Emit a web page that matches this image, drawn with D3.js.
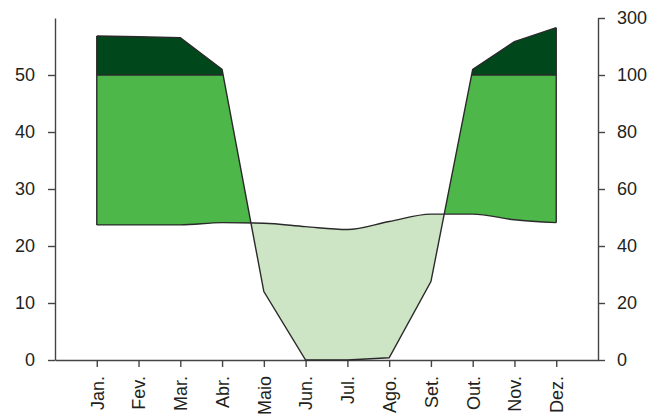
<!DOCTYPE html>
<html>
<head>
<meta charset="utf-8">
<script src="https://cdn.jsdelivr.net/npm/d3@7"></script>
<style>
  html, body { margin: 0; padding: 0; background: #fff; }
  svg { display: block; }
  text { font-family: "Liberation Sans", Arial, sans-serif; }
</style>
</head>
<body>
<svg id="chart" width="649" height="418"></svg>
<script>
const months = ["Jan.","Fev.","Mar.","Abr.","Maio","Jun.","Jul.","Ago.","Set.","Out.","Nov.","Dez."];
const temperature = [23.7, 23.7, 23.7, 24.1, 24.0, 23.4, 22.9, 24.3, 25.6, 25.6, 24.6, 24.1];
const precipitation = [237, 234, 231, 120, 24, 0, 0, 0.8, 27.5, 120, 217, 266];
const tempTicks = [0, 10, 20, 30, 40, 50];
const precipTicks = [0, 20, 40, 60, 80, 100, 300];

(function () {
const svg = d3.select("#chart");
const W = 649, H = 418;
const mLeft = 55, mRight = 598, mTop = 18, mBottom = 360;

const x = d3.scaleLinear().domain([-1, 12]).range([mLeft, mRight]);
const yT = d3.scaleLinear().domain([0, 60]).range([mBottom, mTop]);
const yP = d3.scaleLinear().domain([0, 100, 300]).range([mBottom, yT(50), mTop]);

const idx = d3.range(months.length);
const lineT = d3.line().x(i => x(i)).y(i => yT(temperature[i])).curve(d3.curveMonotoneX);
const lineP = d3.line().x(i => x(i)).y(i => yP(precipitation[i]));
const tD = lineT(idx), pD = lineP(idx);
const x0 = x(0), x1 = x(11);

const defs = svg.append("defs");
defs.append("clipPath").attr("id", "abovePrecip").append("path")
  .attr("d", pD + `L${x1},0L${x0},0Z`);
defs.append("clipPath").attr("id", "belowPrecip").append("path")
  .attr("d", pD + `L${x1},${H}L${x0},${H}Z`);
defs.append("clipPath").attr("id", "aboveTemp").append("path")
  .attr("d", tD + `L${x1},0L${x0},0Z`);
defs.append("clipPath").attr("id", "above100").append("rect")
  .attr("x", 0).attr("y", 0).attr("width", W).attr("height", yP(100));

const belowPrecipPath = pD + `L${x1},${yP(0)}L${x0},${yP(0)}Z`;
const belowTempPath = tD + `L${x1},${H}L${x0},${H}Z`;

// arid
svg.append("path").attr("d", belowTempPath).attr("fill", "#cde5c4")
  .attr("clip-path", "url(#abovePrecip)");
// humid
svg.append("path").attr("d", belowPrecipPath).attr("fill", "#4db849")
  .attr("clip-path", "url(#aboveTemp)");
// very humid (>100 mm)
svg.append("path").attr("d", belowPrecipPath).attr("fill", "#00471c")
  .attr("clip-path", "url(#above100)");

const ink = "#2a2a2a";
svg.append("line").attr("x1", x0).attr("x2", x1).attr("y1", yP(100)).attr("y2", yP(100))
  .attr("stroke", ink).attr("stroke-width", 1.4).attr("clip-path", "url(#belowPrecip)");

const axisColor = "#444";
const gL = svg.append("g").attr("transform", `translate(${mLeft},0)`)
  .call(d3.axisLeft(yT).tickValues(tempTicks).tickSize(7).tickSizeOuter(0).tickPadding(13));
const gR = svg.append("g").attr("transform", `translate(${mRight},0)`)
  .call(d3.axisRight(yP).tickValues(precipTicks).tickSize(7).tickSizeOuter(0).tickPadding(12).tickFormat(d3.format("d")));
const gB = svg.append("g").attr("transform", `translate(0,${mBottom})`)
  .call(d3.axisBottom(x).tickValues(idx).tickSize(7).tickSizeOuter(0).tickFormat(i => months[i]));
gB.selectAll(".tick text")
  .attr("transform", "rotate(-90)")
  .attr("x", -16).attr("y", 0).attr("dy", "0.35em")
  .attr("text-anchor", "end");
[gL, gR, gB].forEach(g => {
  g.selectAll("path, line").attr("stroke", axisColor).attr("stroke-width", 1.4);
  g.selectAll("text").attr("fill", "#231f20").style("font-size", "18px")
    .style("font-family", "'Liberation Sans', Arial, sans-serif");
});

svg.append("line").attr("x1", x0).attr("x2", x0)
  .attr("y1", yT(temperature[0])).attr("y2", yP(precipitation[0]))
  .attr("stroke", ink).attr("stroke-width", 1.4);
svg.append("line").attr("x1", x1).attr("x2", x1)
  .attr("y1", yT(temperature[11])).attr("y2", yP(precipitation[11]))
  .attr("stroke", ink).attr("stroke-width", 1.4);
svg.append("path").attr("d", tD).attr("fill", "none").attr("stroke", ink).attr("stroke-width", 1.4);
svg.append("path").attr("d", pD).attr("fill", "none").attr("stroke", ink).attr("stroke-width", 1.4);
})();
</script>
</body>
</html>
